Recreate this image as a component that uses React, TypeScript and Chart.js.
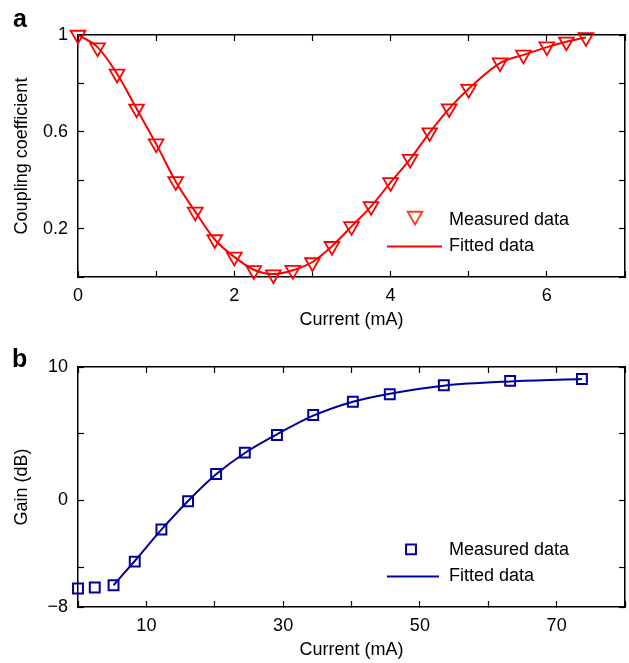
import React, { useEffect, useRef } from 'react';
import { Chart, registerables } from 'chart.js';
import { drawPoint } from 'chart.js/helpers';

Chart.register(...registerables);

const FONT = '"Liberation Sans", Arial, Helvetica, sans-serif';

// ---------- Panel a : coupling coefficient ----------
const currentA = [0, 0.25, 0.5, 0.75, 1.0, 1.25, 1.5, 1.75, 2.0, 2.25, 2.5, 2.75, 3.0, 3.25, 3.5, 3.75, 4.0, 4.25, 4.5, 4.75, 5.0, 5.4, 5.7, 6.0, 6.25, 6.5];
const couplingMeasured = [1.0, 0.948, 0.839, 0.695, 0.551, 0.395, 0.269, 0.155, 0.083, 0.027, 0.01, 0.028, 0.06, 0.127, 0.209, 0.292, 0.391, 0.487, 0.597, 0.696, 0.776, 0.886, 0.918, 0.952, 0.972, 0.99];
const currentAFit = [0, 0.25, 0.5, 0.75, 1.0, 1.25, 1.5, 1.75, 2.0, 2.25, 2.5, 2.75, 3.0, 3.25, 3.5, 3.75, 4.0, 4.25, 4.5, 4.75, 5.0, 5.4, 5.7, 6.0, 6.25, 6.5];
const couplingFitted = [1.0, 0.95, 0.84, 0.695, 0.55, 0.395, 0.27, 0.155, 0.083, 0.03, 0.012, 0.028, 0.062, 0.127, 0.209, 0.292, 0.391, 0.487, 0.597, 0.696, 0.778, 0.884, 0.918, 0.95, 0.972, 0.99];
const xTickMarksA = [0, 1, 2, 3, 4, 5, 6, 7];
const xLabelsA = [0, 2, 4, 6];
const yTickMarksA = [0, 0.2, 0.4, 0.6, 0.8, 1];
const yLabelsA = [0.2, 0.6, 1];

// ---------- Panel b : gain ----------
const currentB = [0, 2.45, 5.2, 8.3, 12.2, 16.1, 20.2, 24.4, 29.1, 34.4, 40.2, 45.6, 53.5, 63.2, 73.7];
const gainMeasured = [-6.61, -6.54, -6.37, -4.6, -2.19, -0.07, 1.97, 3.58, 4.9, 6.4, 7.39, 7.96, 8.63, 8.96, 9.1];
const currentBFit = [5.2, 8.3, 12.2, 16.1, 20.2, 24.4, 29.1, 34.4, 40.2, 45.6, 53.5, 63.2, 73.7];
const gainFitted = [-6.37, -4.55, -2.2, -0.05, 1.95, 3.55, 4.95, 6.35, 7.4, 8.0, 8.6, 8.92, 9.1];
const xTickMarksB = [0, 10, 20, 30, 40, 50, 60, 70, 80];
const xLabelsB = [10, 30, 50, 70];
const yTickMarksB = [-8, -5, 0, 5, 10];
const yLabelsB = [-8, 0, 10];

const RED = '#ff0000';
const NAVY = '#00009a';

const tickFont = { family: FONT, size: 18 };
const titleFont = { family: FONT, size: 18 };

const fmt = (v: number) => (v < 0 ? '\u2212' + Math.abs(v) : String(v));

const insetLegend = {
  id: 'insetLegend',
  afterDraw(chart: any, _args: any, opts: any) {
    const ctx = chart.ctx;
    ctx.save();
    chart.data.datasets.forEach((ds: any, i: number) => {
      const y = opts.rowsY[i];
      if (ds.showLine) {
        ctx.strokeStyle = ds.borderColor;
        ctx.lineWidth = ds.borderWidth;
        ctx.beginPath();
        ctx.moveTo(opts.lineX1, y);
        ctx.lineTo(opts.lineX2, y);
        ctx.stroke();
      } else {
        ctx.strokeStyle = opts.markerColor || ds.pointBorderColor;
        ctx.fillStyle = 'rgba(0,0,0,0)';
        ctx.lineWidth = ds.pointBorderWidth;
        drawPoint(ctx, {
          pointStyle: ds.pointStyle,
          rotation: ds.rotation || 0,
          radius: ds.pointRadius,
          borderWidth: ds.pointBorderWidth,
        } as any, opts.markerX, y + (opts.markerDY || 0));
      }
      ctx.fillStyle = '#000';
      ctx.font = `18px ${FONT}`;
      ctx.textAlign = 'left';
      ctx.textBaseline = 'middle';
      ctx.fillText(ds.label, opts.textX, y);
    });
    ctx.restore();
  },
};

const panelLetter = {
  id: 'panelLetter',
  afterDraw(chart: any, _args: any, opts: any) {
    const ctx = chart.ctx;
    ctx.save();
    ctx.fillStyle = '#000';
    ctx.font = `bold 25px ${FONT}`;
    ctx.textAlign = 'left';
    ctx.textBaseline = 'alphabetic';
    ctx.fillText(opts.text, opts.x, opts.y);
    ctx.restore();
  },
};

const gridOpts = { drawOnChartArea: false, drawTicks: true, tickLength: -6, tickWidth: 1.2, tickColor: '#000' };
const borderOpts = { display: true, color: '#000', width: 1.5 };

const noPad = (s: any) => {
  s.paddingLeft = 0;
  s.paddingRight = 0;
  s.paddingTop = 0;
  s.paddingBottom = 0;
};

function makeScales(p: {
  xMin: number; xMax: number; yMin: number; yMax: number;
  xMarks: number[]; xLabels: number[]; yMarks: number[]; yLabels: number[];
  xTitle: string; yTitle: string; xHeight: number; yWidth: number; xTitlePad: number;
}) {
  const setX = (s: any) => { s.ticks = p.xMarks.map((v) => ({ value: v })); };
  const setY = (s: any) => { s.ticks = p.yMarks.map((v) => ({ value: v })); };
  return {
    x: {
      type: 'linear', position: 'bottom', min: p.xMin, max: p.xMax,
      afterBuildTicks: setX,
      ticks: {
        autoSkip: false, maxRotation: 0, minRotation: 0, padding: 14, color: '#000', font: tickFont,
        callback: (v: number) => (p.xLabels.includes(Math.round(v * 100) / 100) ? fmt(Math.round(v * 100) / 100) : ''),
      },
      grid: gridOpts,
      border: borderOpts,
      title: { display: true, text: p.xTitle, color: '#000', font: titleFont, padding: { top: 0, bottom: p.xTitlePad } },
      afterFit: (s: any) => { s.height = p.xHeight; noPad(s); },
    },
    x2: {
      type: 'linear', position: 'top', min: p.xMin, max: p.xMax,
      afterBuildTicks: setX,
      ticks: { display: false },
      grid: gridOpts,
      border: borderOpts,
      afterFit: (s: any) => { s.height = 0; noPad(s); },
    },
    y: {
      type: 'linear', position: 'left', min: p.yMin, max: p.yMax,
      afterBuildTicks: setY,
      ticks: {
        autoSkip: false, padding: 16, color: '#000', font: tickFont,
        callback: (v: number) => (p.yLabels.includes(Math.round(v * 100) / 100) ? fmt(Math.round(v * 100) / 100) : ''),
      },
      grid: gridOpts,
      border: borderOpts,
      title: { display: true, text: p.yTitle, color: '#000', font: titleFont, padding: { top: 11, bottom: 0 } },
      afterFit: (s: any) => { s.width = p.yWidth; noPad(s); },
    },
    y2: {
      type: 'linear', position: 'right', min: p.yMin, max: p.yMax,
      afterBuildTicks: setY,
      ticks: { display: false },
      grid: gridOpts,
      border: borderOpts,
      afterFit: (s: any) => { s.width = 0; noPad(s); },
    },
  };
}

function makeConfigA(): any {
  return {
    type: 'scatter',
    data: {
      datasets: [
        {
          label: 'Measured data',
          data: currentA.map((x, i) => ({ x, y: couplingMeasured[i] })),
          showLine: false,
          pointStyle: 'triangle',
          rotation: 180,
          pointRadius: 8.5,
          pointBorderWidth: 1.8,
          pointBorderColor: RED,
          pointBackgroundColor: 'rgba(0,0,0,0)',
          borderColor: RED,
          backgroundColor: 'rgba(0,0,0,0)',
          clip: false,
          order: 0,
          xAxisID: 'x', yAxisID: 'y',
        },
        {
          label: 'Fitted data',
          data: currentAFit.map((x, i) => ({ x, y: couplingFitted[i] })),
          showLine: true,
          pointRadius: 0,
          borderColor: RED,
          borderWidth: 2,
          cubicInterpolationMode: 'monotone',
          fill: false,
          clip: false,
          order: 1,
          xAxisID: 'x', yAxisID: 'y',
        },
      ],
    },
    options: {
      responsive: false,
      maintainAspectRatio: false,
      devicePixelRatio: 1,
      animation: false,
      layout: { autoPadding: false, padding: { top: 35, right: 4, left: 0, bottom: 0 } },
      scales: makeScales({
        xMin: 0, xMax: 7, yMin: 0, yMax: 1,
        xMarks: xTickMarksA, xLabels: xLabelsA, yMarks: yTickMarksA, yLabels: yLabelsA,
        xTitle: 'Current (mA)', yTitle: 'Coupling coefficient', xHeight: 54, yWidth: 78, xTitlePad: 0,
      }),
      plugins: {
        legend: { display: false },
        tooltip: { enabled: false },
        insetLegend: { markerX: 415, markerDY: -4, lineX1: 387, lineX2: 442, textX: 449, rowsY: [220, 246.5], markerColor: '#ff3a1a' },
        panelLetter: { text: 'a', x: 13, y: 26.7 },
      },
    },
    plugins: [insetLegend, panelLetter],
  };
}

function makeConfigB(): any {
  return {
    type: 'scatter',
    data: {
      datasets: [
        {
          label: 'Measured data',
          data: currentB.map((x, i) => ({ x, y: gainMeasured[i] })),
          showLine: false,
          pointStyle: 'rect',
          pointRadius: 7,
          pointBorderWidth: 2,
          pointBorderColor: NAVY,
          pointBackgroundColor: 'rgba(0,0,0,0)',
          borderColor: NAVY,
          backgroundColor: 'rgba(0,0,0,0)',
          clip: false,
          order: 0,
          xAxisID: 'x', yAxisID: 'y',
        },
        {
          label: 'Fitted data',
          data: currentBFit.map((x, i) => ({ x, y: gainFitted[i] })),
          showLine: true,
          pointRadius: 0,
          borderColor: NAVY,
          borderWidth: 2,
          cubicInterpolationMode: 'monotone',
          fill: false,
          clip: false,
          order: 1,
          xAxisID: 'x', yAxisID: 'y',
        },
      ],
    },
    options: {
      responsive: false,
      maintainAspectRatio: false,
      devicePixelRatio: 1,
      animation: false,
      layout: { autoPadding: false, padding: { top: 36, right: 4, left: 0, bottom: 0 } },
      scales: makeScales({
        xMin: 0, xMax: 80, yMin: -8, yMax: 10,
        xMarks: xTickMarksB, xLabels: xLabelsB, yMarks: yTickMarksB, yLabels: yLabelsB,
        xTitle: 'Current (mA)', yTitle: 'Gain (dB)', xHeight: 56, yWidth: 78, xTitlePad: 2,
      }),
      plugins: {
        legend: { display: false },
        tooltip: { enabled: false },
        insetLegend: { markerX: 411, markerDY: -1, lineX1: 387, lineX2: 439, textX: 449, rowsY: [219.4, 245.4] },
        panelLetter: { text: 'b', x: 12, y: 35.7 },
      },
    },
    plugins: [insetLegend, panelLetter],
  };
}

function ChartCanvas({ makeConfig, top, height }: { makeConfig: () => any; top: number; height: number }) {
  const ref = useRef<HTMLCanvasElement>(null);
  useEffect(() => {
    const chart = new Chart(ref.current as HTMLCanvasElement, makeConfig());
    return () => chart.destroy();
  }, [makeConfig]);
  return (
    <canvas
      ref={ref}
      width={629}
      height={height}
      style={{ position: 'absolute', left: 0, top, width: 629, height, display: 'block' }}
    />
  );
}

export default function App() {
  return (
    <div style={{ position: 'absolute', left: 0, top: 0, width: 629, height: 663, background: '#fff' }}>
      <ChartCanvas makeConfig={makeConfigA} top={0} height={331} />
      <ChartCanvas makeConfig={makeConfigB} top={331} height={332} />
    </div>
  );
}
